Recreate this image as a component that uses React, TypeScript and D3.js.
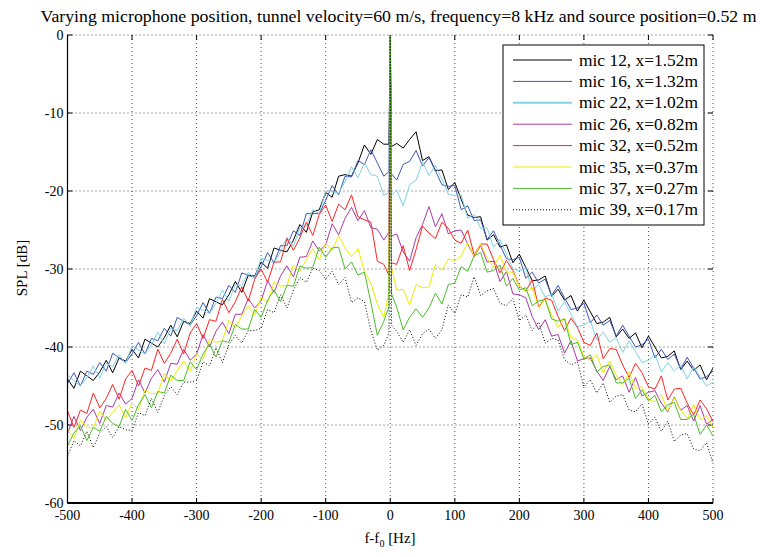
import React from "react";
import * as d3 from "d3";

// frequency offsets f-f0 [Hz]; the tone itself sits at 0
const freqs = [...d3.range(-500, 0, 10), -2, 0, 2, ...d3.range(10, 501, 10)];

const mic12 = [
  -44.1, -45.3, -43.1, -43.7, -44.3, -43.2, -41.7, -43.3, -41.4, -41.8,
  -40.3, -41.4, -39.0, -39.5, -40.0, -38.8, -37.2, -38.7, -36.7, -37.0,
  -35.4, -36.3, -33.8, -34.2, -34.6, -33.3, -31.6, -33.0, -30.8, -30.9,
  -29.1, -29.9, -27.3, -27.6, -27.8, -26.3, -24.3, -25.3, -22.7, -22.4,
  -20.2, -20.8, -18.1, -17.9, -18.1, -16.4, -14.1, -15.3, -13.4, -14.0,
  -14.0, 0, -14.3,
  -13.9, -14.5, -13.4, -12.4, -16.1, -15.6, -17.4, -17.3, -19.8, -18.9,
  -21.1, -23.1, -23.4, -23.3, -26.3, -25.6, -27.2, -26.9, -29.2, -28.1,
  -29.8, -31.5, -31.4, -30.9, -33.5, -32.6, -34.0, -33.4, -35.4, -34.0,
  -35.5, -37.0, -36.8, -36.2, -38.7, -37.7, -38.9, -38.2, -40.1, -38.6,
  -40.0, -41.4, -41.2, -40.5, -42.9, -41.8, -43.0, -42.3, -44.2, -42.7,
];

const mic16 = [
  -44.7, -43.3, -45.0, -43.1, -43.5, -42.0, -43.1, -40.8, -41.4, -42.0,
  -40.9, -39.4, -40.9, -38.9, -39.2, -37.6, -38.6, -36.2, -36.7, -37.2,
  -36.0, -34.3, -35.7, -33.6, -33.8, -32.1, -33.0, -30.5, -30.8, -31.1,
  -29.7, -27.9, -29.2, -27.0, -27.0, -25.1, -25.7, -22.9, -22.9, -22.9,
  -21.2, -19.3, -20.5, -18.1, -18.2, -16.1, -16.6, -14.7, -16.4, -18.1,
  -17.5, 0, -17.8,
  -18.6, -16.6, -16.2, -14.8, -16.8, -15.7, -17.4, -19.2, -19.4, -19.3,
  -22.4, -21.9, -23.8, -23.7, -26.2, -25.1, -26.9, -28.7, -28.8, -28.5,
  -31.2, -30.4, -31.8, -31.3, -33.4, -32.1, -33.7, -35.2, -35.0, -34.4,
  -36.9, -35.9, -37.2, -36.6, -38.6, -37.2, -38.6, -40.0, -39.7, -39.0,
  -41.4, -40.3, -41.6, -40.9, -42.8, -41.3, -42.7, -44.1, -43.8, -43.1,
];

const mic22 = [
  -43.6, -44.3, -45.0, -43.9, -42.4, -44.0, -42.1, -42.5, -41.0, -42.1,
  -39.8, -40.4, -40.9, -39.7, -38.1, -39.6, -37.6, -37.9, -36.3, -37.3,
  -34.9, -35.3, -35.7, -34.4, -32.7, -34.1, -32.0, -32.2, -30.4, -31.2,
  -28.6, -28.9, -29.2, -27.8, -25.9, -27.1, -24.7, -24.5, -22.4, -22.9,
  -20.0, -20.1, -20.3, -18.8, -16.9, -18.3, -16.4, -17.9, -18.1, -20.6,
  -20.2, 0, -20.5,
  -19.9, -21.9, -19.2, -18.6, -16.3, -18.0, -16.7, -18.5, -20.4, -20.6,
  -20.5, -23.5, -23.0, -24.8, -24.7, -27.2, -26.2, -28.1, -30.0, -30.2,
  -29.9, -32.7, -32.0, -33.6, -33.2, -35.4, -34.2, -35.8, -37.4, -37.2,
  -36.6, -39.1, -38.1, -39.4, -38.8, -40.7, -39.2, -40.6, -42.0, -41.7,
  -40.9, -43.2, -42.0, -43.1, -42.3, -44.1, -42.5, -43.8, -45.0, -44.5,
];

const mic26 = [
  -51.1, -48.9, -50.7, -49.0, -48.0, -49.8, -47.5, -47.7, -45.9, -47.3,
  -46.6, -44.2, -45.9, -44.0, -42.9, -44.5, -42.1, -42.2, -40.3, -41.7,
  -40.9, -38.4, -40.0, -38.0, -36.8, -38.3, -35.8, -35.8, -33.8, -35.0,
  -34.1, -31.5, -33.0, -30.9, -29.6, -31.0, -28.5, -28.4, -26.4, -27.7,
  -26.9, -24.2, -25.6, -23.5, -22.1, -23.8, -22.5, -24.7, -24.9, -26.3,
  -25.3, 0, -25.8,
  -25.5, -27.8, -29.0, -26.0, -24.3, -22.0, -24.6, -22.9, -25.5, -25.1,
  -25.0, -26.8, -28.4, -27.0, -29.1, -29.0, -31.6, -30.3, -33.2, -33.3,
  -33.7, -36.1, -37.8, -36.5, -38.6, -38.4, -40.8, -39.2, -41.8, -41.5,
  -41.4, -43.1, -44.3, -42.5, -44.2, -43.7, -45.8, -43.9, -46.3, -45.8,
  -45.6, -47.2, -48.3, -46.4, -48.1, -47.5, -49.5, -47.5, -49.9, -49.3,
];

const mic32 = [
  -48.2, -50.3, -48.1, -48.5, -45.9, -47.8, -46.6, -44.8, -46.7, -44.1,
  -43.0, -45.0, -42.7, -43.0, -40.3, -42.1, -40.8, -39.0, -40.9, -38.2,
  -37.0, -38.9, -36.5, -36.7, -33.9, -35.6, -34.2, -32.3, -34.1, -31.3,
  -30.0, -31.7, -29.1, -29.1, -26.1, -27.6, -26.0, -24.0, -25.7, -23.0,
  -21.8, -23.9, -21.7, -22.4, -20.5, -23.3, -23.7, -24.0, -29.0, -29.4,
  -30.8, 0, -29.2,
  -29.4, -27.0, -30.2, -27.5, -24.5, -25.4, -26.1, -24.0, -24.8, -26.3,
  -26.7, -25.0, -28.2, -26.8, -26.8, -28.8, -30.5, -28.9, -30.2, -32.2,
  -32.8, -31.4, -34.9, -33.7, -34.0, -36.1, -37.9, -36.3, -37.5, -39.4,
  -39.8, -38.2, -41.5, -40.2, -40.3, -42.3, -43.9, -42.1, -43.3, -45.1,
  -45.4, -43.7, -46.8, -45.4, -45.3, -47.2, -48.7, -46.8, -47.9, -49.6,
];

const mic35 = [
  -50.6, -51.7, -49.4, -50.3, -50.4, -48.2, -49.4, -48.4, -47.4, -49.1,
  -47.2, -48.0, -45.5, -46.0, -45.9, -43.4, -44.4, -43.0, -41.8, -43.1,
  -40.9, -41.6, -39.0, -39.4, -39.2, -36.6, -37.5, -36.0, -34.7, -35.9,
  -33.6, -34.3, -31.7, -32.2, -32.1, -29.5, -30.3, -28.8, -27.4, -28.8,
  -26.6, -27.6, -25.7, -27.3, -28.4, -27.4, -30.3, -31.8, -34.5, -36.2,
  -33.0, 0, -29.8,
  -32.7, -32.6, -34.6, -32.0, -32.4, -32.3, -29.4, -30.2, -28.7, -29.0,
  -28.3, -26.6, -28.4, -26.8, -28.6, -29.8, -28.2, -30.4, -30.4, -32.2,
  -32.9, -32.4, -35.0, -33.8, -35.9, -37.5, -36.3, -38.8, -39.1, -41.2,
  -41.7, -41.0, -43.3, -41.8, -43.6, -44.8, -43.2, -45.3, -45.1, -46.7,
  -47.0, -46.1, -48.2, -46.5, -48.1, -49.2, -47.4, -49.3, -48.9, -50.3,
];

const mic37 = [
  -52.7, -51.0, -50.1, -52.0, -50.3, -50.8, -48.9, -49.8, -50.2, -48.0,
  -49.4, -47.4, -46.1, -47.8, -45.7, -45.9, -43.6, -44.3, -44.3, -41.9,
  -42.9, -40.9, -39.6, -41.3, -39.2, -39.4, -37.1, -37.7, -37.7, -35.2,
  -36.2, -34.0, -32.7, -34.2, -32.1, -32.2, -29.6, -29.9, -29.8, -27.2,
  -28.5, -27.3, -27.2, -30.0, -29.1, -30.8, -30.4, -34.3, -38.5, -36.7,
  -34.8, 0, -33.2,
  -34.9, -37.8, -36.2, -35.1, -36.2, -35.0, -33.1, -34.5, -32.0, -31.8,
  -29.7, -30.3, -28.3, -27.9, -30.4, -30.2, -29.5, -32.2, -31.2, -32.7,
  -32.4, -34.7, -34.1, -33.9, -36.4, -36.7, -36.4, -39.7, -39.4, -41.5,
  -41.0, -43.2, -42.5, -42.3, -44.6, -44.6, -44.0, -46.6, -45.5, -46.9,
  -46.2, -48.3, -47.4, -47.1, -49.3, -49.3, -48.6, -51.2, -50.0, -51.4,
];

const mic39 = [
  -54.0, -52.0, -52.7, -50.8, -52.9, -51.0, -50.2, -51.6, -50.2, -50.6,
  -50.7, -48.4, -48.8, -46.6, -48.4, -46.2, -45.1, -46.1, -44.5, -44.5,
  -44.3, -41.9, -42.4, -40.1, -42.0, -39.7, -38.5, -39.5, -37.9, -37.9,
  -37.6, -35.2, -35.6, -33.3, -35.0, -32.7, -31.1, -31.7, -29.9, -30.2,
  -31.3, -30.3, -32.0, -31.1, -34.3, -33.7, -34.2, -37.9, -40.4, -39.8,
  -38.2, 0, -37.2,
  -38.0, -39.4, -37.8, -39.8, -38.3, -37.7, -38.9, -37.8, -34.6, -35.7,
  -33.3, -33.6, -31.0, -33.4, -32.8, -32.5, -34.4, -34.7, -33.8, -36.6,
  -35.9, -37.9, -36.8, -39.5, -38.9, -39.1, -41.6, -42.3, -41.9, -45.1,
  -44.2, -45.9, -44.6, -47.1, -46.3, -46.1, -48.1, -48.3, -47.3, -49.9,
  -49.0, -50.8, -49.5, -52.1, -51.3, -51.1, -53.1, -53.3, -52.3, -54.9,
];

const labels = [
  "mic 12, x=1.52m",
  "mic 16, x=1.32m",
  "mic 22, x=1.02m",
  "mic 26, x=0.82m",
  "mic 32, x=0.52m",
  "mic 35, x=0.37m",
  "mic 37, x=0.27m",
  "mic 39, x=0.17m",
];
const colors = ["#000000", "#3f58b8", "#7fd3e3", "#a83aa8", "#ff2323", "#eded00", "#4cbc2c", "#000000"];
const dashes = ["", "", "", "", "", "", "", "1 2"];
const allSeries = [mic12, mic16, mic22, mic26, mic32, mic35, mic37, mic39];

const xTicks = [-500, -400, -300, -200, -100, 0, 100, 200, 300, 400, 500];
const yTicks = [-60, -50, -40, -30, -20, -10, 0];

const title = "Varying microphone position, tunnel velocity=60 m/s, frequency=8 kHz and source position=0.52 m";

export default function App() {
  const width = 760;
  const height = 557;
  const x = d3.scaleLinear().domain([-500, 500]).range([67.5, 713]);
  const y = d3.scaleLinear().domain([-60, 0]).range([503, 35]);
  const [x0, x1] = x.range();
  const [yb, yt] = y.range();

  const line = d3
    .line<number>()
    .x((_, i) => x(freqs[i]))
    .y((d) => y(d));

  const font = "'Liberation Serif', 'Times New Roman', serif";

  return (
    <svg
      width={width}
      height={height}
      style={{ position: "absolute", left: 0, top: 0, background: "#fff" }}
      fontFamily={font}
    >
      <defs>
        <clipPath id="plot">
          <rect x={x0} y={yt - 1} width={x1 - x0} height={yb - yt + 1} />
        </clipPath>
      </defs>
      <rect width={width} height={height} fill="#fff" />

      {/* grid */}
      <g stroke="#222" strokeWidth={0.8} strokeDasharray="1 3">
        {xTicks.map((t) => (
          <line key={"gx" + t} x1={x(t)} x2={x(t)} y1={yt} y2={yb} />
        ))}
        {yTicks.map((t) => (
          <line key={"gy" + t} x1={x0} x2={x1} y1={y(t)} y2={y(t)} />
        ))}
      </g>

      {/* tick marks */}
      <g stroke="#000" strokeWidth={1}>
        {xTicks.map((t) => (
          <g key={"tx" + t}>
            <line x1={x(t)} x2={x(t)} y1={yb} y2={yb - 5} />
            <line x1={x(t)} x2={x(t)} y1={yt} y2={yt + 5} />
          </g>
        ))}
        {yTicks.map((t) => (
          <g key={"ty" + t}>
            <line x1={x0} x2={x0 + 5} y1={y(t)} y2={y(t)} />
            <line x1={x1} x2={x1 - 5} y1={y(t)} y2={y(t)} />
          </g>
        ))}
      </g>

      {/* series */}
      <g clipPath="url(#plot)" fill="none">
        {allSeries.map((s, i) => (
          <path
            key={labels[i]}
            d={line(s) ?? ""}
            stroke={colors[i]}
            strokeWidth={1}
            strokeDasharray={dashes[i] || undefined}
            strokeLinejoin="round"
          />
        ))}
      </g>

      {/* axes */}
      <line x1={x0} x2={x0} y1={yt} y2={yb} stroke="#000" strokeWidth={1.2} />
      <line x1={x0} x2={x1} y1={yb} y2={yb} stroke="#000" strokeWidth={1.8} />

      {/* tick labels */}
      <g fontSize={14} fill="#000">
        {xTicks.map((t) => (
          <text key={"lx" + t} x={x(t)} y={yb + 17} textAnchor="middle">
            {t}
          </text>
        ))}
        {yTicks.map((t) => (
          <text key={"ly" + t} x={x0 - 4} y={y(t) + 5} textAnchor="end">
            {t}
          </text>
        ))}
      </g>

      {/* axis labels and title */}
      <text x={390} y={543} fontSize={15} textAnchor="middle">
        f-f<tspan fontSize={10} dy={4}>0</tspan>
        <tspan dy={-4}> [Hz]</tspan>
      </text>
      <text transform="translate(27,268) rotate(-90)" fontSize={15} textAnchor="middle">
        SPL [dB]
      </text>
      <text
        x={398.5}
        y={22}
        fontSize={16.5}
        textAnchor="middle"
        textLength={716}
        lengthAdjust="spacingAndGlyphs"
      >
        {title}
      </text>

      {/* legend */}
      <g>
        <rect x={503} y={45} width={201} height={180} fill="#fff" stroke="#000" strokeWidth={1} />
        {labels.map((lab, i) => {
          const ry = 60 + i * 21.4;
          return (
            <g key={"lg" + i}>
              <line
                x1={513}
                x2={572}
                y1={ry}
                y2={ry}
                stroke={colors[i]}
                strokeWidth={i === 2 ? 2 : 1}
                strokeDasharray={dashes[i] || undefined}
              />
              <text
                x={579}
                y={ry + 5.5}
                fontSize={16.5}
                textLength={119}
                lengthAdjust="spacingAndGlyphs"
              >
                {lab}
              </text>
            </g>
          );
        })}
      </g>
    </svg>
  );
}
